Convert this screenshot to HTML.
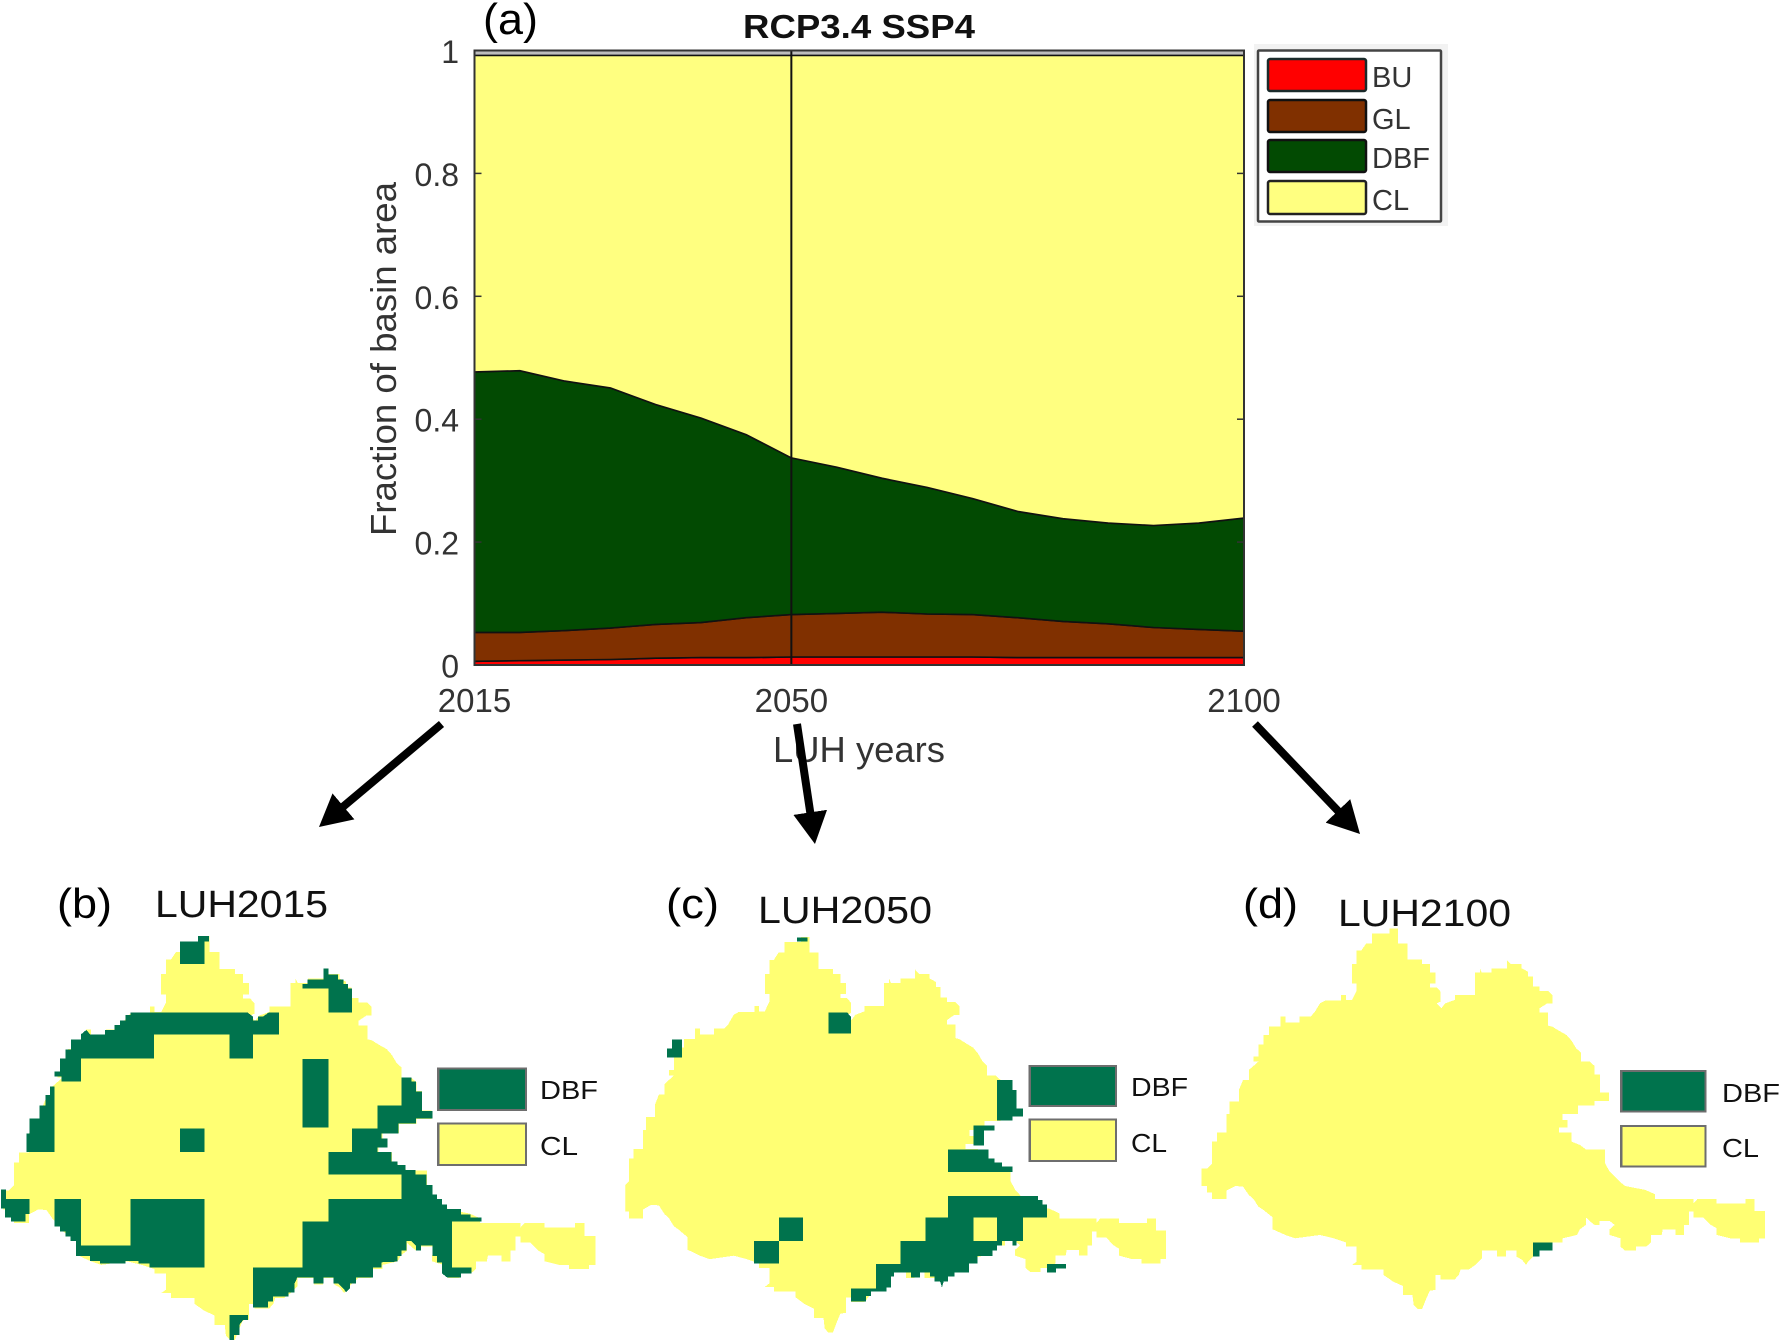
<!DOCTYPE html>
<html lang="en">
<head>
<meta charset="utf-8">
<title>Land use fractions RCP3.4 SSP4 and LUH maps</title>
<style>
html,body{margin:0;padding:0;background:#fff;width:1783px;height:1341px;overflow:hidden}
svg{display:block}
text{font-family:"Liberation Sans",Arial,sans-serif}
</style>
</head>
<body>
<svg id="figure" xmlns="http://www.w3.org/2000/svg" width="1783" height="1341" viewBox="0 0 1783 1341">
<defs>
<path id="basin" d="M500 220H545V205H568V250H592V298H630V312H650V338H665V370H650V382H668L678 395V425L668 430L680 445L690 430L715 420V405H767V338H780V325L785 338H810V325H850V300L860 312H888V325L905 335V350H918V380H935V393H957L968 405V430H955L935 445V458H957V497L968 500L985 512L1005 525L1018 542L1030 565L1042 577V605H1065L1078 618V643H1092V698H1115V723H1078V737H1035V762H995V780H1007V803H985V817H1018V845L1040 855L1055 868H1105V910L1117 935L1130 950L1143 965L1157 978L1210 990L1235 1003V1017H1335V1030L1345 1017H1395V1030H1470V1017H1493V1053H1520V1135H1505V1147H1455V1135H1430L1395 1125V1105L1380 1095L1360 1072H1335V1055H1323V1095H1310V1125H1288V1108H1255L1252 1125H1225V1147L1212 1160H1185V1172H1157L1145 1160V1135L1117 1125V1108L1130 1095L1117 1083H1090V1095H1078L1065 1083L1055 1072V1095L1040 1108L1032 1125L995 1135V1147H968V1172H935L918 1190L905 1205L900 1215L890 1200L875 1190V1172H848V1190H825V1172H785V1195L768 1215L752 1228H730L725 1245L715 1258H678V1245H665V1290L650 1292L640 1318L630 1347H618L608 1335L605 1305H580V1278L555 1265L530 1245V1228H472V1215H448L460 1205V1160H432V1147L400 1135L365 1125L300 1135L275 1125L242 1108V1072L218 1050L205 1040L192 1017L180 1005L165 980L145 978L122 992V1017H85V998H72V978H57V925H72L85 910V845H97V817H122V762H130V725H155V688L165 660H180V630L192 618L205 605H192V590H205V553H218V525H232V500H262V470H275V487H312V470H340L350 458L365 430L378 422H420V405H432V420H448L460 393V370H448V312H460V272H472L485 250H500Z"/>
<clipPath id="clip-c"><rect x="66" y="0" width="1420" height="1500"/></clipPath>
<marker id="arrow-head" markerUnits="userSpaceOnUse" markerWidth="34" markerHeight="34" refX="12" refY="17" orient="auto"><path d="M0 0L32 17L0 34Z" fill="#000"/></marker>
</defs>

<g id="area-chart"></g>

<!-- main legend -->
<g>
<rect x="1254" y="44" width="194" height="182" fill="#f2f2f2"/>
<rect x="1258" y="50.5" width="183" height="171" fill="#fff" stroke="#444" stroke-width="2.5" rx="1"/>
<rect x="1268" y="59" width="98" height="32" rx="2" fill="#ff0000" stroke="#1a2a2a" stroke-width="2.5"/>
<rect x="1268" y="100" width="98" height="32" rx="2" fill="#803000" stroke="#111" stroke-width="2.5"/>
<rect x="1268" y="140" width="98" height="32" rx="2" fill="#024a02" stroke="#111" stroke-width="2.5"/>
<rect x="1268" y="181" width="98" height="33" rx="2" fill="#ffff80" stroke="#222" stroke-width="2.5"/>
<text x="1372" y="87" font-size="29" fill="#333">BU</text>
<text x="1372" y="129" font-size="29" fill="#333">GL</text>
<text x="1372" y="168" font-size="29" fill="#333">DBF</text>
<text x="1372" y="210" font-size="29" fill="#333">CL</text>
</g>

<text x="483" y="34" font-size="44" fill="#000" textLength="55" lengthAdjust="spacingAndGlyphs">(a)</text>
<text x="743" y="38" font-size="33" font-weight="bold" fill="#111" textLength="232" lengthAdjust="spacingAndGlyphs">RCP3.4 SSP4</text>

<!-- arrows -->
<g stroke="#000" stroke-width="8" fill="none">
<line x1="441.5" y1="724" x2="334.3" y2="814.1" marker-end="url(#arrow-head)"/>
<line x1="797" y1="724" x2="812" y2="824.2" marker-end="url(#arrow-head)"/>
<line x1="1255" y1="724" x2="1346.2" y2="819.5" marker-end="url(#arrow-head)"/>
</g>

<!-- map b -->
<g transform="translate(0,860) scale(0.3955,0.3333)" shape-rendering="crispEdges">
<use href="#basin" fill="#ffff73" transform="translate(-51.3,10.5) scale(1.024,1.061)"/>
<g fill="#00734d">
<path d="M455 245H500V228H528V245H517V312H455Z"/>
<path d="M765 372H778V358H818V325H830V343H855V358H868V372H880V385H890V457H830V385H765Z"/>
<path d="M330 457H625L640 470V482H652V470H665L680 457H705V523H640V596H580V523H390V596H205V664H155V650H138V635H152V596H165V568H180V538H205V523L218 510L228 523H265V510H290V495H303V482H317V465H330Z"/>
<path d="M765 597H830V803H765Z"/>
<path d="M138 680V876H67V820H75V775H100V737H115V705H127V680Z"/>
<path d="M455 805H517V876H455Z"/>
<path d="M1015 652H1040V665H1052V695H1067V753H1093V775H1052V790H1007V820H965V835H980V862H955V876H990V905H1005V915H1025V930H1050V943H1078V975H1093V1003H1105V1017H1117V1033H1130V1047H1165V1063H1190V1072H1218V1084H1143V1223H1192V1240H1165V1252H1130L1117 1240V1207H1105V1188H1093V1157H1065V1172H1052V1157L1040 1143H1028V1172H1015V1188H1005V1205L965 1207V1223H943V1252H900V1270H885V1285L875 1297L868 1285L855 1270H843V1252H818V1270H793V1252H752L745 1270V1297H730V1310H690V1325H678V1342H640V1223H765V1084H830V1017H1015V943H830V876H890V805H955V737H1015Z"/>
<path d="M3 988H15V1017H75V1062H65V1084H28V1072H13V1045H3Z"/>
<path d="M138 1017H205V1157H330V1017H517V1223H378V1210H350V1203H317V1210H253V1203H228V1188H192V1143H178V1130H165V1115H152V1100H138Z"/>
<path d="M580 1365H627V1380H615L605 1395V1425H592V1440H580Z"/>
</g>
<rect x="1108" y="625" width="222" height="125" fill="#00734d" stroke="#6e6e6e" stroke-width="6"/>
<rect x="1108" y="790" width="222" height="125" fill="#ffff73" stroke="#6e6e6e" stroke-width="6"/>
</g>
<text x="57" y="918" font-size="42" fill="#000" textLength="55" lengthAdjust="spacingAndGlyphs">(b)</text>
<text x="155" y="917" font-size="38" fill="#111" textLength="173" lengthAdjust="spacingAndGlyphs">LUH2015</text>
<text x="540" y="1099" font-size="26" fill="#111" textLength="58" lengthAdjust="spacingAndGlyphs">DBF</text>
<text x="540" y="1155" font-size="26" fill="#111" textLength="38" lengthAdjust="spacingAndGlyphs">CL</text>

<!-- map c -->
<g transform="translate(600,860) scale(0.383,0.3333)" shape-rendering="crispEdges">
<g clip-path="url(#clip-c)">
<use href="#basin" fill="#ffff73" transform="translate(-7.4,17.2) scale(0.977,1.04)"/>
</g>
<path d="M770 1254H890V1300H770Z" fill="#fff"/>
<g fill="#00734d">
<path d="M515 232H542V244H515Z"/>
<path d="M597 457H645L655 470V520H597Z"/>
<path d="M188 538H214V592H175V565H188Z"/>
<path d="M1037 660H1077V690H1088V745H1104V770H1077V782H1037Z"/>
<path d="M975 796H1030V812H1003V856H975Z"/>
<path d="M908 868H1015V896H1030V907H1050V920H1077V936H908Z"/>
<path d="M908 1008H1143V1020H1155V1033H1167V1072H1104V1143H1088V1157H1077V1143H1050V1157H1037V1172H1025V1188H985V1210H963V1237H925V1250H908V1265H897L893 1283L888 1265H873V1250H862V1237H835V1253H812V1237H768V1250H760V1283H748V1295H708V1308H695V1325H655V1285H720V1212H785V1143H850V1072H908Z"/>
<path d="M468 1072H530V1143H468Z"/>
<path d="M402 1143H468V1210H402Z"/>
<path d="M1167 1212H1217V1225H1190V1237H1167Z"/>
</g>
<rect x="975" y="1072" width="62" height="71" fill="#ffff73"/>
<rect x="1122" y="618" width="225" height="120" fill="#00734d" stroke="#6e6e6e" stroke-width="6"/>
<rect x="1122" y="778" width="225" height="125" fill="#ffff73" stroke="#6e6e6e" stroke-width="6"/>
</g>
<text x="666" y="918" font-size="42" fill="#000" textLength="53" lengthAdjust="spacingAndGlyphs">(c)</text>
<text x="758" y="923" font-size="38" fill="#111" textLength="174" lengthAdjust="spacingAndGlyphs">LUH2050</text>
<text x="1131" y="1096" font-size="26" fill="#111" textLength="57" lengthAdjust="spacingAndGlyphs">DBF</text>
<text x="1131" y="1152" font-size="26" fill="#111" textLength="36" lengthAdjust="spacingAndGlyphs">CL</text>

<!-- map d -->
<g transform="translate(1179.5,860) scale(0.3851,0.3333)" shape-rendering="crispEdges">
<use href="#basin" fill="#ffff73"/>
<path d="M918 1148H968V1172H935V1190H918Z" fill="#00734d"/>
<rect x="1147" y="633" width="219" height="122" fill="#00734d" stroke="#6e6e6e" stroke-width="6"/>
<rect x="1147" y="798" width="219" height="122" fill="#ffff73" stroke="#6e6e6e" stroke-width="6"/>
</g>
<text x="1243" y="918" font-size="42" fill="#000" textLength="55" lengthAdjust="spacingAndGlyphs">(d)</text>
<text x="1338" y="926" font-size="38" fill="#111" textLength="173" lengthAdjust="spacingAndGlyphs">LUH2100</text>
<text x="1722" y="1102" font-size="26" fill="#111" textLength="58" lengthAdjust="spacingAndGlyphs">DBF</text>
<text x="1722" y="1157" font-size="26" fill="#111" textLength="37" lengthAdjust="spacingAndGlyphs">CL</text>
</svg>

<script>
const years = [2015,2020,2025,2030,2035,2040,2045,2050,2055,2060,2065,2070,2075,2080,2085,2090,2095,2100];
const buValues = [.006,.007,.008,.009,.011,.012,.012,.013,.013,.013,.013,.013,.012,.012,.012,.012,.012,.012];
const glValues = [.047,.046,.048,.051,.055,.057,.065,.069,.071,.073,.070,.069,.065,.059,.055,.049,.046,.043];
const dbfValues = [.424,.426,.406,.391,.358,.333,.298,.255,.238,.218,.206,.189,.173,.167,.164,.166,.173,.184];
const clValues = [.515,.513,.530,.541,.568,.590,.617,.655,.670,.688,.703,.721,.742,.754,.761,.765,.761,.753];
const yTickValues = [0,0.2,0.4,0.6,0.8,1];
const xTickValues = [2015,2050,2100];
const markerYear = 2050;
const seriesNames = ['area-bu','area-gl','area-dbf','area-cl'];
const seriesColors = ['#ff0000','#803000','#024a02','#ffff80'];

const NS = 'http://www.w3.org/2000/svg';
const chart = document.getElementById('area-chart');
const plot = {left:474.5,right:1244,top:50.5,bottom:665};
function xScale(year){ return plot.left + (year-2015)/(2100-2015)*(plot.right-plot.left); }
function yScale(v){ return plot.bottom - v*(plot.bottom-plot.top); }
function make(tag,attrs,text){
  const el = document.createElementNS(NS,tag);
  for(const k in attrs){ el.setAttribute(k,attrs[k]); }
  if(text!==undefined){ el.textContent = text; }
  return el;
}

const bandRect = make('rect',{x:plot.left,y:plot.top,width:plot.right-plot.left,height:5,fill:'#bdbdbd'});


chart.appendChild(bandRect);

const allSeries = [buValues,glValues,dbfValues,clValues];
let lower = years.map(function(){ return 0; });
allSeries.forEach(function(values,si){
  const upper = values.map(function(v,i){ return lower[i]+v; });
  let d = '';
  years.forEach(function(y,i){ d += (i?'L':'M')+xScale(y).toFixed(1)+' '+yScale(upper[i]).toFixed(1); });
  for(let i=years.length-1;i>=0;i--){ d += 'L'+xScale(years[i]).toFixed(1)+' '+yScale(lower[i]).toFixed(1); }
  d += 'Z';
  const area = make('path',{d:d,fill:seriesColors[si],stroke:'#111','stroke-width':1.6,'stroke-linejoin':'round'});
  
  
  chart.appendChild(area);
  lower = upper;
});

const markerLine = make('line',{x1:xScale(markerYear),x2:xScale(markerYear),y1:plot.top,y2:plot.bottom,stroke:'#111','stroke-width':2});


chart.appendChild(markerLine);

const frame = make('rect',{x:plot.left,y:plot.top,width:plot.right-plot.left,height:plot.bottom-plot.top,fill:'none',stroke:'#333','stroke-width':2});


chart.appendChild(frame);

yTickValues.forEach(function(v){
  const y = yScale(v);
  const tl = make('line',{x1:plot.left,x2:plot.left+7,y1:y,y2:y,stroke:'#333','stroke-width':1.5});
  
  
  chart.appendChild(tl);
  const tr = make('line',{x1:plot.right-7,x2:plot.right,y1:y,y2:y,stroke:'#333','stroke-width':1.5});
  
  
  chart.appendChild(tr);
  const lab = make('text',{x:459,y:y+12.5,'font-size':32,fill:'#333','text-anchor':'end'},String(v));
  
  
  chart.appendChild(lab);
});

xTickValues.forEach(function(yr){
  const lab = make('text',{x:xScale(yr),y:712,'font-size':33,fill:'#333','text-anchor':'middle'},String(yr));
  
  
  chart.appendChild(lab);
});

const yTitle = make('text',{transform:'translate(396,359) rotate(-90)','font-size':36,fill:'#333','text-anchor':'middle',textLength:354,lengthAdjust:'spacingAndGlyphs'},'Fraction of basin area');


chart.appendChild(yTitle);

const xTitle = make('text',{x:859,y:762,'font-size':36,fill:'#333','text-anchor':'middle',textLength:172,lengthAdjust:'spacingAndGlyphs'},'LUH years');


chart.appendChild(xTitle);
</script>
</body>
</html>
